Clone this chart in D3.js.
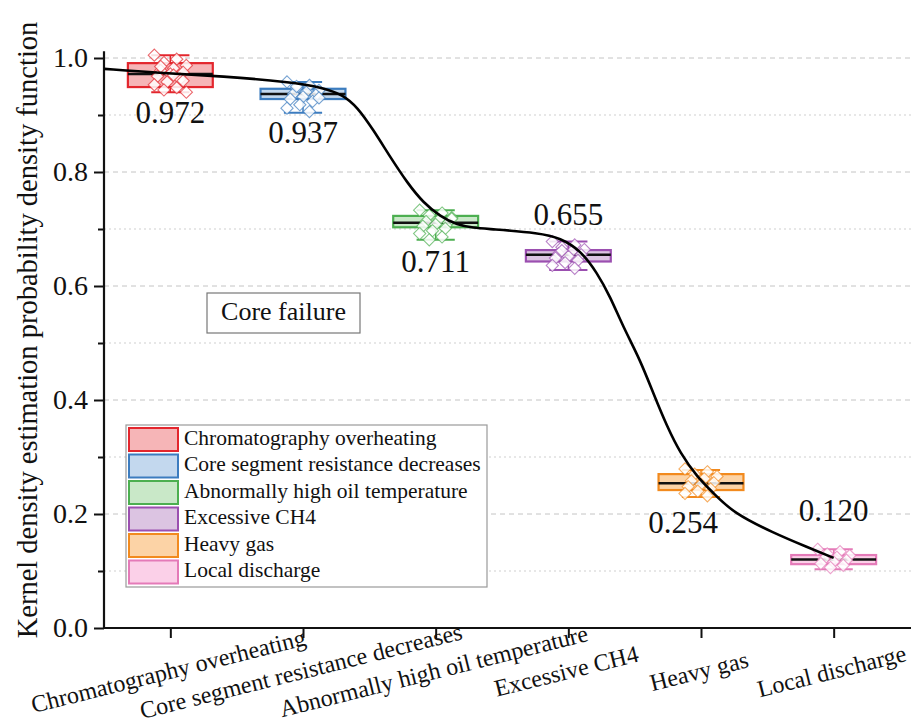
<!DOCTYPE html>
<html><head><meta charset="utf-8">
<script src="https://cdn.jsdelivr.net/npm/d3@7"></script>
<style>body{margin:0;background:#fff}svg{display:block}</style>
</head><body>
<svg id="c" width="911" height="726"></svg>
<script>
// ---- data ----
const categories = ["Chromatography overheating","Core segment resistance decreases","Abnormally high oil temperature","Excessive CH4","Heavy gas","Local discharge"];
const medians = [0.972,0.937,0.711,0.655,0.254,0.120];
const q3s = [0.991,0.946,0.723,0.663,0.270,0.128];
const q1s = [0.949,0.928,0.703,0.643,0.242,0.112];
const whiskerHigh = [1.005,0.958,0.733,0.678,0.277,0.138];
const whiskerLow = [0.940,0.904,0.681,0.628,0.230,0.103];
const pointsRed = [1.005,0.998,0.992,0.987,0.982,0.978,0.975,0.972,0.968,0.963,0.958,0.953,0.948,0.944,0.940,0.970,0.985,0.960];
const pointsBlue = [0.958,0.952,0.947,0.943,0.940,0.937,0.935,0.932,0.928,0.924,0.918,0.912,0.906,0.950,0.930];
const pointsGreen = [0.733,0.728,0.724,0.720,0.716,0.713,0.711,0.708,0.705,0.701,0.697,0.692,0.686,0.681,0.718];
const pointsPurple = [0.678,0.672,0.668,0.664,0.660,0.657,0.655,0.652,0.649,0.645,0.641,0.636,0.631,0.662];
const pointsOrange = [0.279,0.274,0.270,0.266,0.262,0.258,0.255,0.252,0.248,0.244,0.240,0.236,0.232];
const pointsPink = [0.138,0.134,0.130,0.127,0.124,0.121,0.119,0.116,0.113,0.110,0.106];
const points = [pointsRed,pointsBlue,pointsGreen,pointsPurple,pointsOrange,pointsPink];
// KDE curve: position in category units, value
const curveU = [-0.497,-0.098,0.40,0.904,1.153,1.304,1.409,1.53,1.658,1.786,1.907,2.035,2.163,2.283,2.411,2.788,2.939,3.09,3.218,3.316,3.414,3.542,3.64,3.745,3.843,3.971,4.092,4.243,4.544,4.80,5.0];
const curveV = [0.981,0.974,0.968,0.958,0.948,0.935,0.914,0.874,0.826,0.781,0.746,0.722,0.707,0.702,0.700,0.693,0.684,0.663,0.623,0.581,0.528,0.470,0.412,0.353,0.307,0.265,0.237,0.202,0.167,0.142,0.123];
const valueLabels = ["0.972","0.937","0.711","0.655","0.254","0.120"];
const labelBelow = [true,true,true,false,true,false];
const yTicks = [0,0.2,0.4,0.6,0.8,1.0];
const yMinorTicks = [0.1,0.3,0.5,0.7,0.9];
const strokeColors = ["#e3262d","#3c7cbf","#4caf50","#9b4fb0","#f28a1e","#e47ab8"];
const fillColors = ["#f6b5b7","#c3d8ee","#c9e8c8","#dcc4e2","#fcd3a6","#fbd0e8"];
const legendTitle = "Core failure";
const yTitle = "Kernel density estimation probability density function";

const FONT = "Liberation Serif, Times New Roman, Times, serif";

// ---- layout ----
const svg = d3.select("#c");
const x = d3.scalePoint().domain(categories).range([104,900]).padding(0.5);
const y = d3.scaleLinear().domain([0,1]).range([628,58]);
const u = d3.scaleLinear().domain([0,5]).range([x(categories[0]), x(categories[5])]);
const axisX0 = 104, axisX1 = 911;

// grid
svg.append("g").selectAll("line").data(yTicks.filter(d=>d>0)).join("line")
  .attr("x1",axisX0).attr("x2",axisX1).attr("y1",d=>y(d)).attr("y2",d=>y(d))
  .attr("stroke","#c4c4c4").attr("stroke-width",1).attr("stroke-dasharray","5,4");
svg.append("g").selectAll("line").data(yMinorTicks).join("line")
  .attr("x1",axisX0).attr("x2",axisX1).attr("y1",d=>y(d)).attr("y2",d=>y(d))
  .attr("stroke","#cfcfcf").attr("stroke-width",1).attr("stroke-dasharray","2,3");

// y axis
const yAxis = svg.append("g").attr("transform",`translate(${axisX0},0)`)
  .call(d3.axisLeft(y).tickValues(yTicks).tickFormat(d3.format(".1f")).tickSize(10).tickPadding(6));
yAxis.attr("font-family",FONT);
yAxis.select(".domain").remove();
yAxis.selectAll(".tick line").attr("stroke","#111").attr("stroke-width",2);
yAxis.selectAll(".tick text").attr("font-size",28).attr("font-family",FONT).attr("fill","#111");
const yMinor = svg.append("g").attr("transform",`translate(${axisX0},0)`)
  .call(d3.axisLeft(y).tickValues(yMinorTicks).tickFormat("").tickSize(6));
yMinor.select(".domain").remove();
yMinor.selectAll(".tick line").attr("stroke","#111").attr("stroke-width",2);
svg.append("line").attr("x1",axisX0).attr("x2",axisX0).attr("y1",y(0)+1).attr("y2",y(1.012))
  .attr("stroke","#111").attr("stroke-width",2.2);

// x axis
const xAxis = svg.append("g").attr("transform",`translate(0,${y(0)})`)
  .call(d3.axisBottom(x).tickSize(10).tickFormat(""));
xAxis.select(".domain").remove();
xAxis.selectAll(".tick line").attr("stroke","#111").attr("stroke-width",2);
svg.append("line").attr("x1",axisX0-1).attr("x2",axisX1).attr("y1",y(0)).attr("y2",y(0))
  .attr("stroke","#111").attr("stroke-width",2.2);
svg.append("g").selectAll("text").data(categories).join("text")
  .attr("transform",d=>`translate(${x(d)},679) rotate(-14)`)
  .attr("text-anchor","middle")
  .attr("font-family",FONT).attr("fill","#111")
  .attr("font-size",24).text(d=>d);

// y title
svg.append("text").attr("transform","translate(30,330) rotate(-90)")
  .attr("text-anchor","middle").attr("dominant-baseline","middle")
  .attr("font-family",FONT).attr("fill","#111")
  .attr("font-size",28.5).text(yTitle);

// boxes
const bw = x.step()*0.64;
const capW = bw*0.45;
const gBox = svg.append("g");
categories.forEach((c,i)=>{
  const cx = x(c);
  const g = gBox.append("g");
  g.append("line").attr("x1",cx).attr("x2",cx).attr("y1",y(whiskerHigh[i])).attr("y2",y(whiskerLow[i]))
    .attr("stroke",strokeColors[i]).attr("stroke-width",1.5);
  [whiskerHigh[i],whiskerLow[i]].forEach(v=>{
    g.append("line").attr("x1",cx-capW/2).attr("x2",cx+capW/2).attr("y1",y(v)).attr("y2",y(v))
      .attr("stroke",strokeColors[i]).attr("stroke-width",2);
  });
  g.append("rect").attr("x",cx-bw/2).attr("width",bw).attr("y",y(q3s[i])).attr("height",y(q1s[i])-y(q3s[i]))
    .attr("fill",fillColors[i]).attr("stroke",strokeColors[i]).attr("stroke-width",2.2);
  g.append("line").attr("x1",cx-bw/2).attr("x2",cx+bw/2).attr("y1",y(medians[i])).attr("y2",y(medians[i]))
    .attr("stroke","#111").attr("stroke-width",2.5);
  // jittered hollow diamonds (deterministic layout offsets)
  const sym = d3.symbol().type(d3.symbolDiamond2).size(95);
  g.append("g").selectAll("path").data(points[i]).join("path")
    .attr("d",sym)
    .attr("transform",(v,k)=>`translate(${cx + (((k*7)%11)-5)*3.2},${y(v)})`)
    .attr("fill","#fff").attr("fill-opacity",0.85).attr("stroke",strokeColors[i]).attr("stroke-width",1.1).attr("stroke-opacity",0.7);
});

// curve
svg.append("path").datum(curveU.map((d,i)=>[d,curveV[i]]))
  .attr("d",d3.line().x(d=>u(d[0])).y(d=>y(d[1])).curve(d3.curveBasis))
  .attr("fill","none").attr("stroke","#000").attr("stroke-width",2.6);

// value labels
const labelOffset = [29,37,38,-32,36,-41];
svg.append("g").selectAll("text").data(valueLabels).join("text")
  .attr("x",(d,i)=>x(categories[i]) + (i===4?-18:0))
  .attr("y",(d,i)=> (labelBelow[i] ? y(q1s[i]) : y(q3s[i])) + labelOffset[i])
  .attr("text-anchor","middle").attr("dominant-baseline","middle")
  .attr("font-family",FONT).attr("fill","#111")
  .attr("font-size",31).text(d=>d);

// legend
const lg = svg.append("g").attr("transform","translate(126,425)");
lg.append("rect").attr("width",361).attr("height",162).attr("fill","#fff").attr("stroke","#9a9a9a").attr("stroke-width",1.2);
categories.forEach((c,i)=>{
  const ry = 3 + i*26.5;
  lg.append("rect").attr("x",3).attr("y",ry).attr("width",49).attr("height",23)
    .attr("fill",fillColors[i]).attr("stroke",strokeColors[i]).attr("stroke-width",2);
  lg.append("text").attr("x",58).attr("y",ry+12).attr("dominant-baseline","middle")
    .attr("font-family",FONT).attr("fill","#111")
    .attr("font-size",21.5).text(c);
});

// annotation box
const ab = svg.append("g").attr("transform","translate(207,293)");
ab.append("rect").attr("width",153).attr("height",40).attr("fill","#fff").attr("stroke","#777").attr("stroke-width",1.2);
ab.append("text").attr("x",76.5).attr("y",21).attr("text-anchor","middle").attr("dominant-baseline","middle")
  .attr("font-family",FONT).attr("fill","#111")
  .attr("font-size",26).text(legendTitle);
</script>
</body></html>
